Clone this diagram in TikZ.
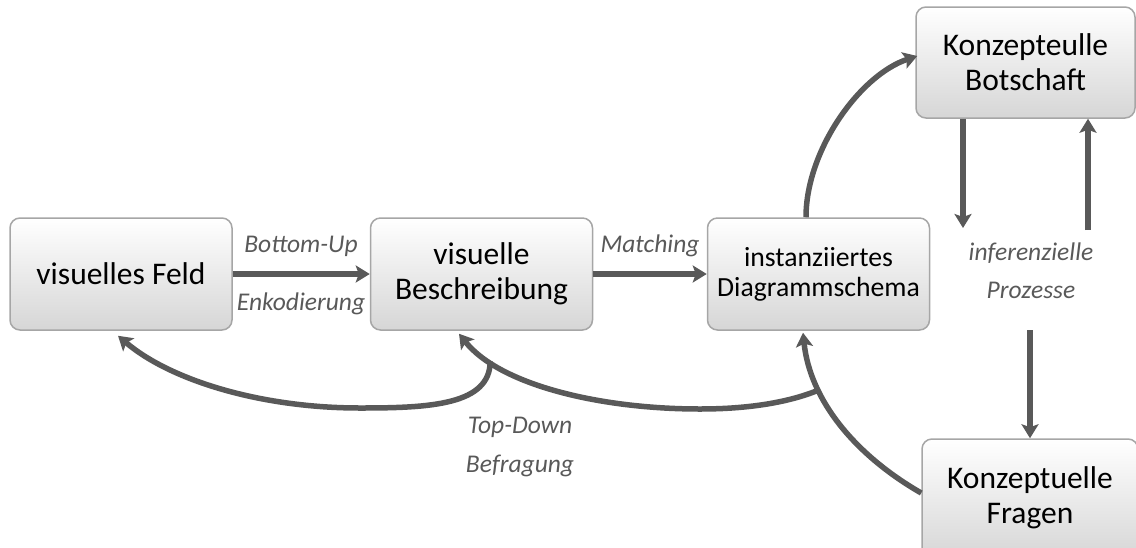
\documentclass[tikz,border=0pt]{standalone}
\usepackage{fontspec}
\setmainfont{Carlito}
\usetikzlibrary{arrows.meta,calc}
\definecolor{arr}{HTML}{595959}
\definecolor{bord}{HTML}{A6A6A6}
\definecolor{boxbot}{HTML}{D6D6D6}
\definecolor{lab}{HTML}{595959}
\begin{document}
\begin{tikzpicture}[x=1pt,y=-1pt,
  box/.style={draw=bord, line width=1.5pt, rounded corners=10pt, top color=white, bottom color=boxbot,
    minimum width=222pt, minimum height=112pt, align=center, inner sep=0pt,
    font=\fontsize{31.5}{35}\selectfont},
  conn/.style={draw=arr, line width=5.5pt, -{Stealth[length=14pt,width=17pt,inset=3pt]}},
  lbl/.style={text=lab, anchor=base, inner sep=0pt, font=\fontsize{25.5}{30}\selectfont\itshape}
]
\useasboundingbox (0,0) rectangle (1136,547);
\clip (0,0) rectangle (1136,547);

% boxes
\node[box] (fe) at (121,274) {visuelles Feld};
\node[box] (be) at (481.5,274) {visuelle\\Beschreibung};
\node[box, font=\fontsize{27.7}{30}\selectfont] (sc) at (818.5,274) {instanziiertes\\Diagrammschema};
\node[box, minimum width=219pt, minimum height=111pt] (bo) at (1025.5,62.5) {Konzepteulle\\Botschaft};
\node[box, minimum width=216pt, minimum height=120pt] (fr) at (1030,499) {\raisebox{4pt}{\begin{tabular}{@{}c@{}}Konzeptuelle\\Fragen\end{tabular}}};

% labels
\node[lbl] (bu) at (301,252) {Bottom-Up};
\node[lbl] (en) at (301,310) {Enkodierung};
\node[lbl] (ma) at (650,252) {Matching};
\node[lbl] (td) at (520,433) {Top-Down};
\node[lbl] (bf) at (520,472) {Befragung};
\node[lbl] (in) at (1031,260) {inferenzielle};
\node[lbl] (pr) at (1031,298) {Prozesse};

% free ends and via points
\coordinate (d1) at (963,228);
\coordinate (u1) at (1088,230);
\coordinate (d2) at (1030,330);
\coordinate (lowB) at (700,409);
\coordinate (lowC) at (360,408);

% straight connectors
\draw[conn] (fe) -- (be);
\draw[conn] (be) -- (sc);
\draw[conn] (bo.south -| d1) -- (d1);
\draw[conn] (u1) -- (bo.south -| u1);
\draw[conn] (d2) -- (fr.north);

% schema -> botschaft
\draw[conn] ([xshift=-12.5pt]sc.north) .. controls (806,150) and (860,75) .. ([yshift=6.5pt,xshift=2pt]bo.west);

% fragen -> schema
\draw[conn] ([yshift=6pt]fr.west) .. controls (855,455) and (810,400) .. ([xshift=-15.5pt,yshift=-2pt]sc.south) coordinate[pos=0.7] (p1);

% branch -> beschreibung
\draw[conn] (p1) .. controls (790,402) and (750,409) .. (lowB)
  .. controls (600,409) and (500,385) .. ([xshift=-22.5pt,yshift=-3pt]be.south) coordinate[pos=0.8] (p2);

% branch -> visuelles Feld
\draw[conn] (p2) .. controls (490,405) and (430,408) .. (lowC)
  .. controls (260,408) and (170,380) .. ([xshift=-3pt,yshift=-5pt]fe.south);
\end{tikzpicture}
\end{document}
